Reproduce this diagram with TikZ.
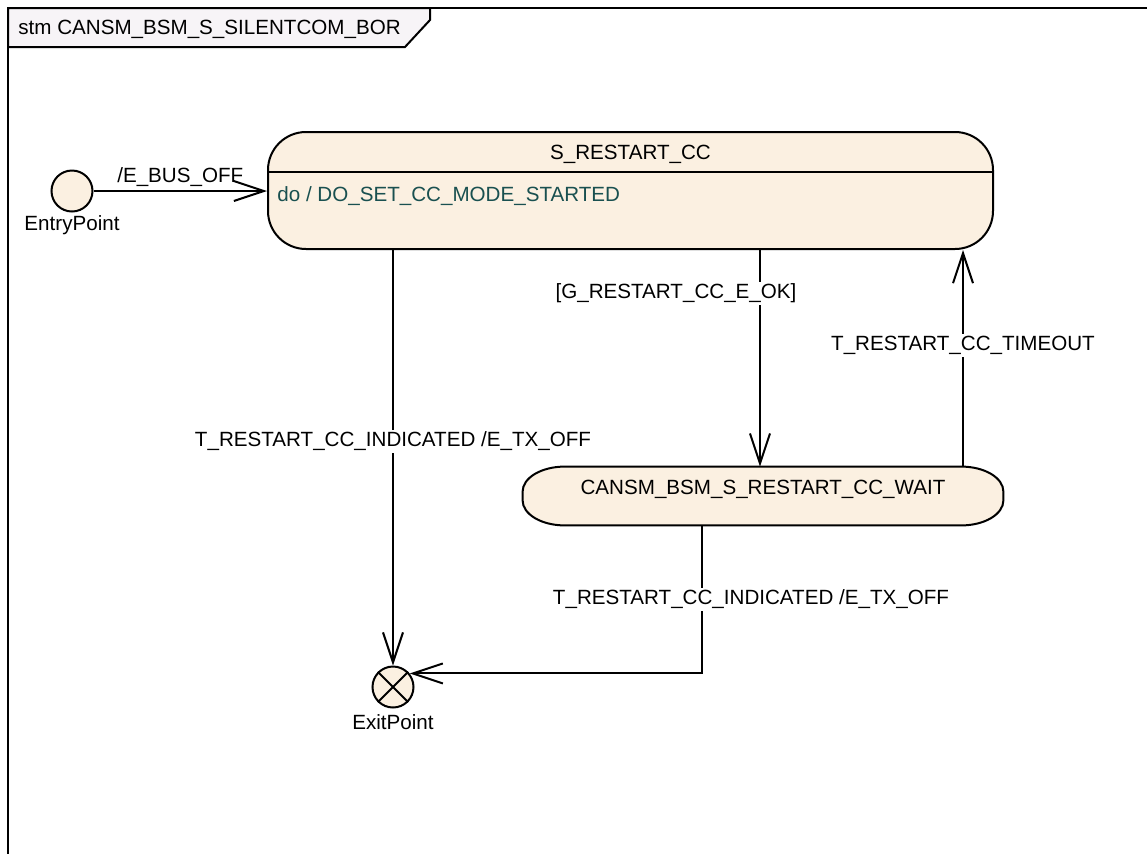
\documentclass[tikz,border=0pt]{standalone}
\usepackage{fontspec}
\setmainfont{Liberation Sans}
\usepackage{xcolor}
\usepackage{tikz}
\usetikzlibrary{arrows.meta,positioning,calc}

\definecolor{statefill}{RGB}{251,240,225}
\definecolor{tabfill}{RGB}{247,244,247}
\definecolor{dotext}{RGB}{25,80,80}

\begin{document}
\begin{tikzpicture}[
  x=0.5pt, y=-0.5pt,
  font=\fontsize{10.3}{12}\selectfont,
  >={Straight Barb[length=15pt,width=10pt]},
  statebox/.style={draw=black, line width=1pt, fill=statefill, rounded corners=19pt, minimum width=362.5pt, minimum height=58.5pt},
  waitbox/.style={minimum width=240pt, minimum height=29pt, inner sep=0pt},
  pseudo/.style={circle, draw=black, line width=1pt, fill=statefill, minimum size=20.5pt, inner sep=0pt},
  trans/.style={->, line width=1pt, black},
  lbl/.style={fill=white, inner sep=1pt}
]

\useasboundingbox (0,0) rectangle (1147,853);

% frame and name tab
\draw[line width=1pt] (8,880) -- (8,8) -- (1160,8);
\draw[line width=1pt, fill=tabfill] (8,8) -- (430,8) -- (430,20) -- (405,47) -- (8,47) -- cycle;
\node[anchor=west, inner sep=0pt] (title) at (18,29) {stm CANSM\_BSM\_S\_SILENTCOM\_BOR};

% states
\node[statebox] (restart) at (630.5,190.5) {};
\draw[line width=1pt] ([yshift=-20.5pt]restart.north west) -- ([yshift=-20.5pt]restart.north east);
\node (restartname) at ([yshift=-11.5pt]restart.north) {S\_RESTART\_CC};
\node[anchor=west, text=dotext, inner sep=0pt] (restartdo) at ([xshift=5pt,yshift=-32.5pt]restart.north west) {do / DO\_SET\_CC\_MODE\_STARTED};

\node[waitbox] (wait) at (763,496) {};
\draw[line width=1pt, fill=statefill]
  ([xshift=21pt]wait.north west) -- ([xshift=-21pt]wait.north east)
  arc[start angle=90, end angle=0, x radius=21pt, y radius=12.5pt]
  -- ([yshift=12.5pt]wait.south east)
  arc[start angle=0, end angle=-90, x radius=21pt, y radius=12.5pt]
  -- ([xshift=21pt]wait.south west)
  arc[start angle=270, end angle=180, x radius=21pt, y radius=12.5pt]
  -- ([yshift=-12.5pt]wait.north west)
  arc[start angle=180, end angle=90, x radius=21pt, y radius=12.5pt] -- cycle;
\node (waitname) at ([yshift=3.5pt]wait.center) {CANSM\_BSM\_S\_RESTART\_CC\_WAIT};

% pseudo states
\node[pseudo] (entry) at (72,191) {};
\node[below=1.5pt of entry, inner sep=0pt] (entrytxt) {EntryPoint};
\node[pseudo] (exit) at (393,687) {};
\draw[line width=1pt] (exit.north west) -- (exit.south east) (exit.north east) -- (exit.south west);
\node[below=3pt of exit, inner sep=0pt] (exittxt) {ExitPoint};

% transitions
\draw[trans] (entry) -- node[above, inner sep=1.5pt] (busoff) {/E\_BUS\_OFF} (restart.west |- entry);
\draw[trans] (exit.north |- restart.south) -- node[lbl, pos=0.46] (indicated1) {T\_RESTART\_CC\_INDICATED /E\_TX\_OFF} (exit);

\coordinate (gok) at ([xshift=64.75pt]restart.south);
\draw[trans] (gok) -- node[lbl, pos=0.2, xshift=-42pt] (okguard) {[G\_RESTART\_CC\_E\_OK]} (gok |- wait.north);

\coordinate (tout) at ([xshift=100pt]wait.north);
\draw[trans] (tout) -- node[lbl, pos=0.56] (timeout) {T\_RESTART\_CC\_TIMEOUT} (tout |- restart.south);

\coordinate (ind) at ([xshift=-30.5pt]wait.south);
\draw[trans] (ind) |- node[lbl, pos=0.25, xshift=24.5pt] (indicated2) {T\_RESTART\_CC\_INDICATED /E\_TX\_OFF} (exit.39);

\end{tikzpicture}
\end{document}
